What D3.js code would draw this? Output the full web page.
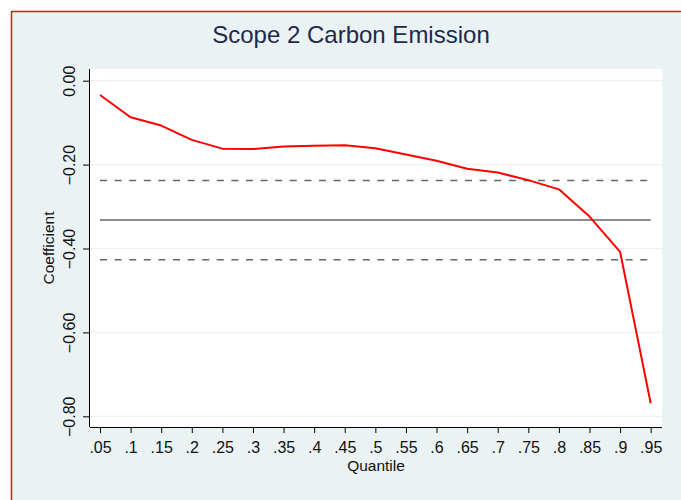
<!DOCTYPE html>
<html>
<head>
<meta charset="utf-8">
<script src="https://cdn.jsdelivr.net/npm/d3@7"></script>
<style>
  html, body { margin: 0; padding: 0; background: #ffffff; }
</style>
</head>
<body>
<script>
const quantiles = [0.05, 0.1, 0.15, 0.2, 0.25, 0.3, 0.35, 0.4, 0.45, 0.5,
  0.55, 0.6, 0.65, 0.7, 0.75, 0.8, 0.85, 0.9, 0.95];
const coefficients = [-0.034, -0.087, -0.107, -0.141, -0.162, -0.163, -0.157, -0.155, -0.154, -0.161,
  -0.176, -0.191, -0.21, -0.219, -0.237, -0.259, -0.324, -0.408, -0.769];
const olsCoef = -0.332;
const olsBand = [-0.238, -0.427];
const xTickLabels = [".05", ".1", ".15", ".2", ".25", ".3", ".35", ".4", ".45", ".5",
  ".55", ".6", ".65", ".7", ".75", ".8", ".85", ".9", ".95"];
const yTicks = [0, -0.2, -0.4, -0.6, -0.8];

const width = 681;
const height = 500;
const font = "Arial, 'Liberation Sans', Helvetica, sans-serif";
const plot = { left: 90, right: 662, top: 69, bottom: 427 };

const svg = d3.select("body")
  .append("svg")
  .attr("width", width)
  .attr("height", height)
  .attr("viewBox", `0 0 ${width} ${height}`);

// outer frame
svg.append("rect")
  .attr("x", 11.5).attr("y", 11.5)
  .attr("width", width).attr("height", height)
  .attr("fill", "#eaf2f3");
svg.append("path")
  .attr("d", `M11.5,${height} V11.5 H${width}`)
  .attr("fill", "none")
  .attr("stroke", "#ee1111")
  .attr("stroke-width", 1.5);

const x = d3.scaleLinear().domain([0.05, 0.95]).range([100, 650.7]);
const y = d3.scaleLinear().domain([0, -0.8]).range([80.7, 416.3]);

svg.append("rect")
  .attr("x", plot.left).attr("y", plot.top)
  .attr("width", plot.right - plot.left)
  .attr("height", plot.bottom - plot.top)
  .attr("fill", "#ffffff");

// grid
svg.append("g")
  .selectAll("line")
  .data(yTicks)
  .join("line")
  .attr("x1", plot.left).attr("x2", plot.right)
  .attr("y1", (d) => y(d)).attr("y2", (d) => y(d))
  .attr("stroke", "#eaf2f3")
  .attr("stroke-width", 1.2);

// reference lines
const x0 = x(quantiles[0]);
const x1 = x(quantiles[quantiles.length - 1]);
svg.append("line")
  .attr("x1", x0).attr("x2", x1)
  .attr("y1", y(olsCoef)).attr("y2", y(olsCoef))
  .attr("stroke", "#666666")
  .attr("stroke-width", 1.5);
svg.append("g")
  .selectAll("line")
  .data(olsBand)
  .join("line")
  .attr("x1", x0).attr("x2", x1)
  .attr("y1", (d) => y(d)).attr("y2", (d) => y(d))
  .attr("stroke", "#666666")
  .attr("stroke-width", 1.5)
  .attr("stroke-dasharray", "7,7.6");

// coefficient line
const points = quantiles.map((q, i) => [q, coefficients[i]]);
svg.append("path")
  .datum(points)
  .attr("fill", "none")
  .attr("stroke", "#ff0000")
  .attr("stroke-width", 2)
  .attr("stroke-linejoin", "round")
  .attr("d", d3.line().x((d) => x(d[0])).y((d) => y(d[1])));

// axes
const xAxis = svg.append("g")
  .attr("transform", `translate(0,${plot.bottom})`)
  .call(d3.axisBottom(x).tickValues(quantiles).tickFormat((d, i) => xTickLabels[i]).tickSize(6).tickSizeOuter(0));
xAxis.select(".domain").attr("d", `M${plot.left},0.5H${plot.right}`).attr("stroke", "#000");
xAxis.selectAll(".tick line").attr("stroke", "#000");
xAxis.selectAll("text")
  .attr("font-family", font)
  .attr("font-size", 16)
  .attr("fill", "#111")
  .attr("dy", null)
  .attr("y", 25.7);

const yAxis = svg.append("g")
  .attr("transform", `translate(${plot.left},0)`)
  .call(d3.axisLeft(y).tickValues(yTicks).tickFormat(d3.format(".2f")).tickSize(7).tickSizeOuter(0));
yAxis.select(".domain").attr("d", `M-0.5,${plot.top}V${plot.bottom}`).attr("stroke", "#000");
yAxis.selectAll(".tick line").attr("stroke", "#000");
yAxis.selectAll("text")
  .attr("font-family", font)
  .attr("font-size", 16)
  .attr("fill", "#111")
  .attr("x", null)
  .attr("dy", null)
  .attr("text-anchor", "middle")
  .attr("dominant-baseline", "central")
  .attr("transform", "translate(-21,0) rotate(-90)");

// titles
svg.append("text")
  .attr("x", 351)
  .attr("y", 42.5)
  .attr("text-anchor", "middle")
  .attr("font-family", font)
  .attr("font-size", 24)
  .attr("fill", "#1e2a4c")
  .text("Scope 2 Carbon Emission");

svg.append("text")
  .attr("x", (plot.left + plot.right) / 2)
  .attr("y", 465)
  .attr("text-anchor", "middle")
  .attr("dominant-baseline", "central")
  .attr("font-family", font)
  .attr("font-size", 15.5)
  .attr("fill", "#111")
  .text("Quantile");

svg.append("text")
  .attr("transform", `translate(48,${(plot.top + plot.bottom) / 2}) rotate(-90)`)
  .attr("text-anchor", "middle")
  .attr("dominant-baseline", "central")
  .attr("font-family", font)
  .attr("font-size", 15.5)
  .attr("fill", "#111")
  .text("Coefficient");
</script>
</body>
</html>
